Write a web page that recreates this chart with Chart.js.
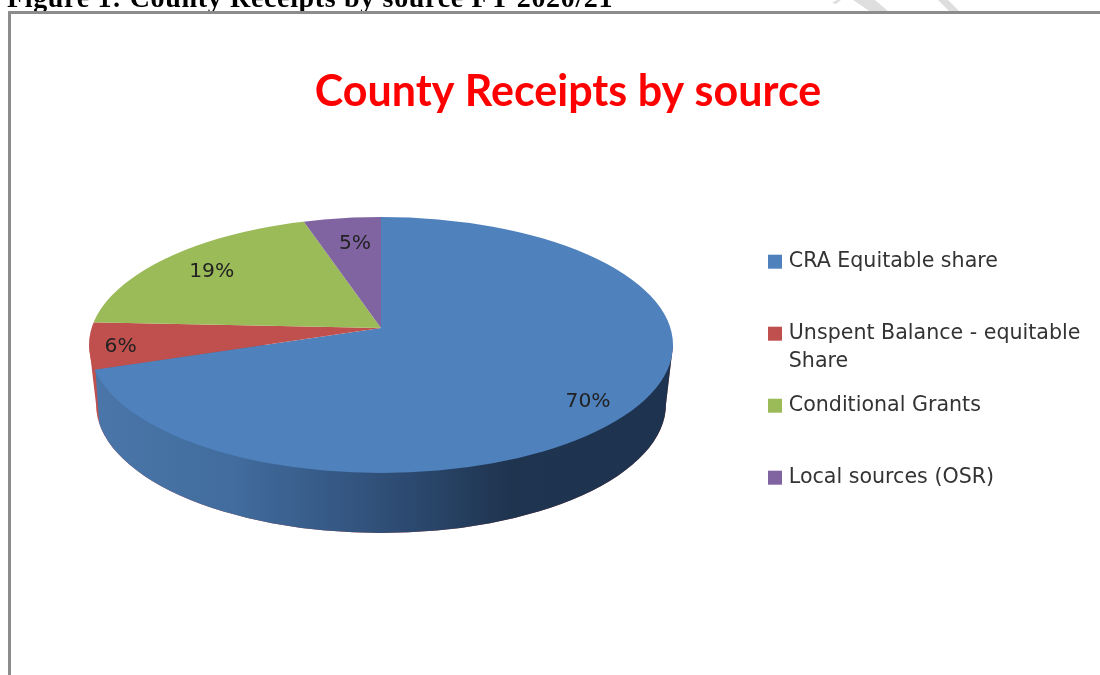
<!DOCTYPE html>
<html>
<head>
<meta charset="utf-8">
<script src="https://cdn.jsdelivr.net/npm/chart.js@4"></script>
<style>
html,body{margin:0;padding:0;background:#fff;width:1100px;height:675px;overflow:hidden}
#caption{position:absolute;left:7px;top:-17px;font:bold 28px/30px "Liberation Serif",serif;letter-spacing:.66px;color:#000;white-space:nowrap;filter:blur(.3px)}
#frame{position:absolute;left:8px;top:11px;width:1200px;height:800px;border:3px solid #8c8c8c;box-sizing:border-box}
#mark{position:absolute;left:0;top:0}
canvas{position:absolute;left:0;top:0;filter:blur(.4px)}
</style>
</head>
<body>
<svg id="mark" width="1100" height="12"><g fill="#dedede">
<polygon points="853,0 875,0 889,12 871,12"/><polygon points="938,0 948,0 960,12 950,12"/><polygon points="837,0 841,0 836,4 832,3"/></g></svg>
<div id="caption">Figure 1: County Receipts by source FY 2020/21</div>
<div id="frame"></div>
<canvas id="c" width="1136" height="675"></canvas>
<script>
const chartTitle = "County Receipts by source";
const categories = ["CRA Equitable share", "Unspent Balance - equitable Share", "Conditional Grants", "Local sources (OSR)"];
const legendLines = [["CRA Equitable share"], ["Unspent Balance - equitable", "Share"], ["Conditional Grants"], ["Local sources (OSR)"]];
const shares = [69.9, 5.8, 19.4, 4.9];
const colors = ["#4f81bd", "#c0504d", "#9bbb59", "#8064a2"];

const TITLE_FONT = '"Lato","Open Sans",sans-serif';
const FONT = '"DejaVu Sans",sans-serif';
const geo = {apexX:381, apexY:328, cx:381, cy:345, rx:292, ry:128, bcy:404, brx:285, bry:129};
const legendBox = {left:720.1, top:200};
const labelPlace = [{f:.9,dx:-6,dy:6},{f:.9,dx:0,dy:3},{f:.73,dx:0,dy:1},{f:.67,dx:4,dy:0}];

const pie3d = {
  id:'pie3d',
  afterLayout(chart){
    const l = chart.legend;
    l.left = legendBox.left; l.top = legendBox.top; l.right = 1136; l.bottom = 675;
  },
  beforeDatasetsDraw(chart){
    const ctx = chart.ctx, g = geo;
    const arcs = chart.getDatasetMeta(0).data;
    const wall = () => {
      ctx.beginPath();
      ctx.moveTo(g.cx-g.rx, g.cy);
      ctx.lineTo(g.cx-g.brx, g.bcy);
      ctx.ellipse(g.cx, g.bcy, g.brx, g.bry, 0, Math.PI, 0, true);
      ctx.lineTo(g.cx+g.rx, g.cy);
      ctx.closePath();
    };
    ctx.save();
    wall(); ctx.fillStyle = colors[1]; ctx.fill();
    ctx.restore();
    // end of the first slice on the rim, from the library's arc angle
    const a = arcs[0].endAngle + Math.PI/2;
    const ux = Math.sin(a), uy = -Math.cos(a)*g.ry/g.rx, dy = g.apexY-g.cy;
    const A = (ux/g.rx)**2 + (uy/g.ry)**2, B = 2*uy*dy/(g.ry*g.ry), C = (dy/g.ry)**2-1;
    const k = (-B+Math.sqrt(B*B-4*A*C))/(2*A);
    const ex = g.apexX + k*ux, ey = g.apexY + k*uy;
    ctx.save();
    ctx.beginPath();
    ctx.moveTo(ex+1, ey); ctx.lineTo(ex+5, g.bcy+25); ctx.lineTo(ex+5, 640); ctx.lineTo(g.cx+g.rx+10, 640); ctx.lineTo(g.cx+g.rx+10, 200); ctx.lineTo(ex+1, 200);
    ctx.closePath(); ctx.clip();
    const grad = ctx.createLinearGradient(g.cx-g.rx, 0, g.cx+g.rx, 0);
    grad.addColorStop(0, '#4a76aa'); grad.addColorStop(.25, '#416c9d'); grad.addColorStop(.4, '#375b88');
    grad.addColorStop(.52, '#2e4d75'); grad.addColorStop(.72, '#1f344f'); grad.addColorStop(1, '#1e334f');
    wall(); ctx.fillStyle = grad; ctx.fill();
    ctx.restore();
    // top face: the library's arcs, flattened and clipped to the rim
    const el = arcs[0];
    const scale = 1.45;
    ctx.save();
    ctx.beginPath(); ctx.ellipse(g.cx, g.cy, g.rx, g.ry, 0, 0, Math.PI*2); ctx.clip();
    ctx.translate(g.apexX, g.apexY);
    ctx.scale(scale, scale*g.ry/g.rx);
    ctx.translate(-el.x, -el.y);
  },
  afterDatasetsDraw(chart){
    const ctx = chart.ctx, g = geo;
    ctx.restore();
    const arcs = chart.getDatasetMeta(0).data;
    const total = shares.reduce((s,v)=>s+v,0);
    ctx.save();
    ctx.font = '20.3px '+FONT; ctx.fillStyle = '#222'; ctx.textAlign='center'; ctx.textBaseline='middle';
    arcs.forEach((arc,i)=>{
      const m = (arc.startAngle+arc.endAngle)/2 + Math.PI/2, p = labelPlace[i];
      const x = g.apexX + p.f*g.rx*Math.sin(m) + p.dx;
      const y = g.apexY - p.f*g.ry*Math.cos(m) + p.dy;
      ctx.fillText(Math.round(shares[i]/total*100)+'%', x, y);
    });
    ctx.restore();
  },
  afterDraw(chart){
    const ctx = chart.ctx, l = chart.legend, o = l.options.labels, size = o.font.size;
    ctx.save();
    ctx.font = size+'px '+FONT; ctx.fillStyle = o.color; ctx.textBaseline='middle';
    const rowH = size + o.padding, lineH = 28;
    legendLines.forEach((lines,i)=>{
      const x = l.left + o.padding + o.boxWidth + size/2;
      const y = l.top + o.padding + i*rowH + size/2;
      lines.slice(1).forEach((t,j)=>ctx.fillText(t, x, y + lineH*(j+1)));
    });
    ctx.restore();
  }
};

new Chart(document.getElementById('c'), {
  type:'pie',
  data:{labels:categories, datasets:[{data:shares, backgroundColor:colors, borderWidth:0}]},
  options:{
    responsive:false, animation:false,
    plugins:{
      tooltip:{enabled:false},
      title:{display:true, text:chartTitle, color:'#ff0000', font:{family:TITLE_FONT, size:43, weight:'bold', lineHeight:1.2}, padding:{top:66, bottom:80}},
      legend:{position:'right', align:'start',
        labels:{boxWidth:7, boxHeight:7, padding:51.4, color:'#333', font:{family:FONT, size:20.6},
          generateLabels:()=>legendLines.map((lines,i)=>({text:lines[0], fontColor:'#333', fillStyle:colors[i], strokeStyle:colors[i], lineWidth:7, index:i}))
        }}
    }
  },
  plugins:[pie3d]
});
</script>
</body>
</html>
